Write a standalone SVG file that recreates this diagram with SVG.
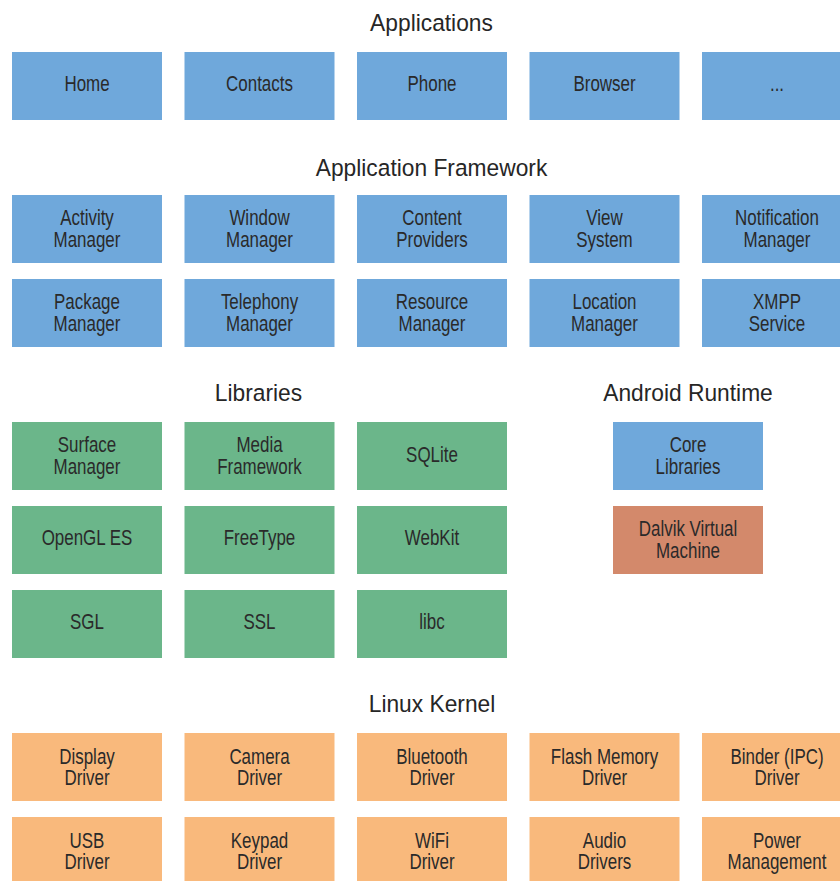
<svg xmlns="http://www.w3.org/2000/svg" width="840" height="881" viewBox="0 0 840 881">
<style>
.blue{fill:#6fa8db}
.green{fill:#6bb68a}
.orange{fill:#f9b97c}
.dalvik{fill:#d3896b}
.t{font-family:"Liberation Sans",Arial,sans-serif;font-size:22px;fill:#2a2a2a;text-anchor:middle}
.h{font-family:"Liberation Sans",Arial,sans-serif;font-size:24.5px;fill:#262626;text-anchor:middle}
</style>
<rect width="840" height="881" fill="#ffffff"/>
<g id="titles">
<text class="h" transform="translate(431.5 31) scale(0.93 1)">Applications</text>
<text class="h" transform="translate(431.5 176) scale(0.93 1)">Application Framework</text>
<text class="h" transform="translate(258.5 401) scale(0.93 1)">Libraries</text>
<text class="h" transform="translate(688 401) scale(0.93 1)">Android Runtime</text>
<text class="h" transform="translate(432 712) scale(0.93 1)">Linux Kernel</text>
</g>
<g id="connectors"></g>
<!-- Applications -->
<g id="app-home"><rect class="blue" x="12" y="52" width="150" height="68"/><text class="t" transform="translate(87 91) scale(0.77 1)">Home</text></g>
<g id="app-contacts"><rect class="blue" x="184.5" y="52" width="150" height="68"/><text class="t" transform="translate(259.5 91) scale(0.77 1)">Contacts</text></g>
<g id="app-phone"><rect class="blue" x="357" y="52" width="150" height="68"/><text class="t" transform="translate(432 91) scale(0.77 1)">Phone</text></g>
<g id="app-browser"><rect class="blue" x="529.5" y="52" width="150" height="68"/><text class="t" transform="translate(604.5 91) scale(0.77 1)">Browser</text></g>
<g id="app-more"><rect class="blue" x="702" y="52" width="150" height="68"/><text class="t" transform="translate(777 91) scale(0.77 1)">...</text></g>
<!-- Framework row 1 -->
<g id="fw-activity"><rect class="blue" x="12" y="195" width="150" height="68"/><text class="t" transform="translate(87 225) scale(0.77 1)"><tspan x="0">Activity</tspan><tspan x="0" dy="22">Manager</tspan></text></g>
<g id="fw-window"><rect class="blue" x="184.5" y="195" width="150" height="68"/><text class="t" transform="translate(259.5 225) scale(0.77 1)"><tspan x="0">Window</tspan><tspan x="0" dy="22">Manager</tspan></text></g>
<g id="fw-content"><rect class="blue" x="357" y="195" width="150" height="68"/><text class="t" transform="translate(432 225) scale(0.77 1)"><tspan x="0">Content</tspan><tspan x="0" dy="22">Providers</tspan></text></g>
<g id="fw-view"><rect class="blue" x="529.5" y="195" width="150" height="68"/><text class="t" transform="translate(604.5 225) scale(0.77 1)"><tspan x="0">View</tspan><tspan x="0" dy="22">System</tspan></text></g>
<g id="fw-notification"><rect class="blue" x="702" y="195" width="150" height="68"/><text class="t" transform="translate(777 225) scale(0.77 1)"><tspan x="0">Notification</tspan><tspan x="0" dy="22">Manager</tspan></text></g>
<!-- Framework row 2 -->
<g id="fw-package"><rect class="blue" x="12" y="279" width="150" height="68"/><text class="t" transform="translate(87 309) scale(0.77 1)"><tspan x="0">Package</tspan><tspan x="0" dy="22">Manager</tspan></text></g>
<g id="fw-telephony"><rect class="blue" x="184.5" y="279" width="150" height="68"/><text class="t" transform="translate(259.5 309) scale(0.77 1)"><tspan x="0">Telephony</tspan><tspan x="0" dy="22">Manager</tspan></text></g>
<g id="fw-resource"><rect class="blue" x="357" y="279" width="150" height="68"/><text class="t" transform="translate(432 309) scale(0.77 1)"><tspan x="0">Resource</tspan><tspan x="0" dy="22">Manager</tspan></text></g>
<g id="fw-location"><rect class="blue" x="529.5" y="279" width="150" height="68"/><text class="t" transform="translate(604.5 309) scale(0.77 1)"><tspan x="0">Location</tspan><tspan x="0" dy="22">Manager</tspan></text></g>
<g id="fw-xmpp"><rect class="blue" x="702" y="279" width="150" height="68"/><text class="t" transform="translate(777 309) scale(0.77 1)"><tspan x="0">XMPP</tspan><tspan x="0" dy="22">Service</tspan></text></g>
<!-- Libraries -->
<g id="lib-surface"><rect class="green" x="12" y="422" width="150" height="68"/><text class="t" transform="translate(87 452) scale(0.77 1)"><tspan x="0">Surface</tspan><tspan x="0" dy="22">Manager</tspan></text></g>
<g id="lib-media"><rect class="green" x="184.5" y="422" width="150" height="68"/><text class="t" transform="translate(259.5 452) scale(0.77 1)"><tspan x="0">Media</tspan><tspan x="0" dy="22">Framework</tspan></text></g>
<g id="lib-sqlite"><rect class="green" x="357" y="422" width="150" height="68"/><text class="t" transform="translate(432 462) scale(0.77 1)">SQLite</text></g>
<g id="lib-opengl"><rect class="green" x="12" y="506" width="150" height="68"/><text class="t" transform="translate(87 545) scale(0.77 1)">OpenGL ES</text></g>
<g id="lib-freetype"><rect class="green" x="184.5" y="506" width="150" height="68"/><text class="t" transform="translate(259.5 545) scale(0.77 1)">FreeType</text></g>
<g id="lib-webkit"><rect class="green" x="357" y="506" width="150" height="68"/><text class="t" transform="translate(432 545) scale(0.77 1)">WebKit</text></g>
<g id="lib-sgl"><rect class="green" x="12" y="590" width="150" height="68"/><text class="t" transform="translate(87 629) scale(0.77 1)">SGL</text></g>
<g id="lib-ssl"><rect class="green" x="184.5" y="590" width="150" height="68"/><text class="t" transform="translate(259.5 629) scale(0.77 1)">SSL</text></g>
<g id="lib-libc"><rect class="green" x="357" y="590" width="150" height="68"/><text class="t" transform="translate(432 629) scale(0.77 1)">libc</text></g>
<!-- Android Runtime -->
<g id="rt-core"><rect class="blue" x="613" y="422" width="150" height="68"/><text class="t" transform="translate(688 452) scale(0.77 1)"><tspan x="0">Core</tspan><tspan x="0" dy="22">Libraries</tspan></text></g>
<g id="rt-dalvik"><rect class="dalvik" x="613" y="506" width="150" height="68"/><text class="t" transform="translate(688 536) scale(0.77 1)"><tspan x="0">Dalvik Virtual</tspan><tspan x="0" dy="22">Machine</tspan></text></g>
<!-- Linux Kernel row 1 -->
<g id="k-display"><rect class="orange" x="12" y="733" width="150" height="68"/><text class="t" transform="translate(87 764) scale(0.77 1)"><tspan x="0">Display</tspan><tspan x="0" dy="21.5">Driver</tspan></text></g>
<g id="k-camera"><rect class="orange" x="184.5" y="733" width="150" height="68"/><text class="t" transform="translate(259.5 764) scale(0.77 1)"><tspan x="0">Camera</tspan><tspan x="0" dy="21.5">Driver</tspan></text></g>
<g id="k-bluetooth"><rect class="orange" x="357" y="733" width="150" height="68"/><text class="t" transform="translate(432 764) scale(0.77 1)"><tspan x="0">Bluetooth</tspan><tspan x="0" dy="21.5">Driver</tspan></text></g>
<g id="k-flash"><rect class="orange" x="529.5" y="733" width="150" height="68"/><text class="t" transform="translate(604.5 764) scale(0.77 1)"><tspan x="0">Flash Memory</tspan><tspan x="0" dy="21.5">Driver</tspan></text></g>
<g id="k-binder"><rect class="orange" x="702" y="733" width="150" height="68"/><text class="t" transform="translate(777 764) scale(0.77 1)"><tspan x="0">Binder (IPC)</tspan><tspan x="0" dy="21.5">Driver</tspan></text></g>
<!-- Linux Kernel row 2 -->
<g id="k-usb"><rect class="orange" x="12" y="817" width="150" height="68"/><text class="t" transform="translate(87 848) scale(0.77 1)"><tspan x="0">USB</tspan><tspan x="0" dy="21.5">Driver</tspan></text></g>
<g id="k-keypad"><rect class="orange" x="184.5" y="817" width="150" height="68"/><text class="t" transform="translate(259.5 848) scale(0.77 1)"><tspan x="0">Keypad</tspan><tspan x="0" dy="21.5">Driver</tspan></text></g>
<g id="k-wifi"><rect class="orange" x="357" y="817" width="150" height="68"/><text class="t" transform="translate(432 848) scale(0.77 1)"><tspan x="0">WiFi</tspan><tspan x="0" dy="21.5">Driver</tspan></text></g>
<g id="k-audio"><rect class="orange" x="529.5" y="817" width="150" height="68"/><text class="t" transform="translate(604.5 848) scale(0.77 1)"><tspan x="0">Audio</tspan><tspan x="0" dy="21.5">Drivers</tspan></text></g>
<g id="k-power"><rect class="orange" x="702" y="817" width="150" height="68"/><text class="t" transform="translate(777 848) scale(0.77 1)"><tspan x="0">Power</tspan><tspan x="0" dy="21.5">Management</tspan></text></g>
</svg>
